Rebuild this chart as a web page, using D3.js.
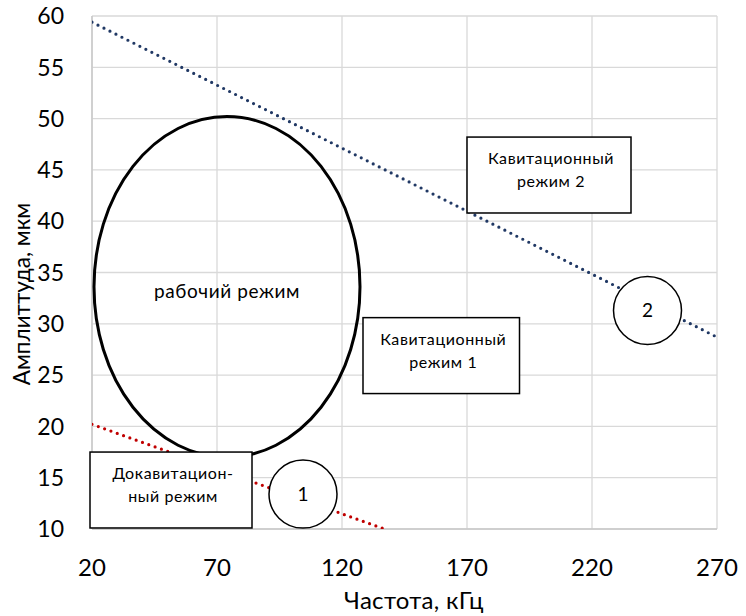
<!DOCTYPE html>
<html>
<head>
<meta charset="utf-8">
<script src="https://cdn.jsdelivr.net/npm/d3@7"></script>
<style>
  html, body { margin: 0; padding: 0; background: #fff; }
  svg { display: block; font-family: Lato, "Noto Sans", sans-serif; }
</style>
</head>
<body>
<svg id="chart" width="746" height="616"></svg>
<script>
// Boundary lines of the operating regions (frequency, kHz → amplitude, µm)
const upperBoundFreq = [20, 270];
const upperBoundAmp = [59.4, 28.7];
const lowerBoundFreq = [20, 137];
const lowerBoundAmp = [20.2, 10];

// Axis ticks
const xTicks = [20, 70, 120, 170, 220, 270];
const yTicks = [10, 15, 20, 25, 30, 35, 40, 45, 50, 55, 60];

// Working-mode region (ellipse in data units)
const workRegion = { cx: 74, cy: 33.6, rx: 53.2, ry: 16.6, labelY: 33.2, label: "рабочий режим" };

// Region captions (boxes in data units)
const regionBoxes = [
  { x0: 19.2, x1: 84, y0: 10.1, y1: 17.5, lines: ["Докавитацион-", "ный режим"] },
  { x0: 128.4, x1: 191, y0: 23.2, y1: 30.6, lines: ["Кавитационный", "режим 1"] },
  { x0: 170, x1: 235.6, y0: 40.8, y1: 48.2, lines: ["Кавитационный", "режим 2"] }
];

// Numbered markers on the boundary lines
const markers = [
  { x: 104.4, y: 13.4, label: "1" },
  { x: 242.2, y: 31.3, label: "2" }
];

const svg = d3.select("#chart");
const margin = { left: 92, right: 29, top: 16, bottom: 87 };
const W = 746, H = 616;

const x = d3.scaleLinear().domain([20, 270]).range([margin.left, W - margin.right]);
const y = d3.scaleLinear().domain([10, 60]).range([H - margin.bottom, margin.top]);

// Grid
const grid = svg.append("g");
grid.selectAll("line.h").data(yTicks).join("line")
  .attr("x1", x(20)).attr("x2", x(270))
  .attr("y1", d => y(d)).attr("y2", d => y(d))
  .attr("stroke", "#d9d9d9").attr("stroke-width", 1.3);
grid.selectAll("line.v").data(xTicks).join("line")
  .attr("x1", d => x(d)).attr("x2", d => x(d))
  .attr("y1", y(10)).attr("y2", y(60))
  .attr("stroke", "#d9d9d9").attr("stroke-width", 1.3);

// Axis lines
svg.append("line").attr("x1", x(20)).attr("x2", x(20)).attr("y1", y(10)).attr("y2", y(60))
  .attr("stroke", "#c8c8c8").attr("stroke-width", 1.5);
svg.append("line").attr("x1", x(20)).attr("x2", x(270)).attr("y1", y(10)).attr("y2", y(10))
  .attr("stroke", "#c8c8c8").attr("stroke-width", 1.5);

// Tick labels
svg.append("g").selectAll("text").data(yTicks).join("text")
  .attr("x", margin.left - 28).attr("y", d => y(d))
  .attr("dy", "0.36em").attr("text-anchor", "end")
  .attr("font-size", 23).attr("fill", "#000").text(d => d);
svg.append("g").selectAll("text").data(xTicks).join("text")
  .attr("x", d => x(d)).attr("y", H - margin.bottom + 47)
  .attr("text-anchor", "middle")
  .attr("font-size", 24).attr("fill", "#000").text(d => d);

// Axis titles
svg.append("text").attr("x", 414).attr("y", 609)
  .attr("text-anchor", "middle").attr("font-size", 24).attr("letter-spacing", 0.3)
  .text("Частота, кГц");
svg.append("text")
  .attr("transform", "translate(30,294) rotate(-90)")
  .attr("text-anchor", "middle").attr("font-size", 22.5)
  .text("Амплиттуда, мкм");

// Clip for boundary lines
svg.append("clipPath").attr("id", "plot").append("rect")
  .attr("x", x(20)).attr("y", y(60) - 4).attr("width", x(270) - x(20) + 4).attr("height", y(10) - y(60) + 4);

const line = d3.line().x(d => x(d[0])).y(d => y(d[1]));
const bounds = [
  { pts: d3.zip(upperBoundFreq, upperBoundAmp), color: "#203864" },
  { pts: d3.zip(lowerBoundFreq, lowerBoundAmp), color: "#c00000" }
];
svg.append("g").attr("clip-path", "url(#plot)").selectAll("path").data(bounds).join("path")
  .attr("d", d => line(d.pts))
  .attr("fill", "none").attr("stroke", d => d.color)
  .attr("stroke-width", 3.2).attr("stroke-linecap", "round")
  .attr("stroke-dasharray", "0 6.7");

// Working-mode ellipse
svg.append("ellipse")
  .attr("cx", x(workRegion.cx)).attr("cy", y(workRegion.cy))
  .attr("rx", x(workRegion.cx + workRegion.rx) - x(workRegion.cx))
  .attr("ry", y(workRegion.cy) - y(workRegion.cy + workRegion.ry))
  .attr("fill", "none").attr("stroke", "#000").attr("stroke-width", 3);
svg.append("text").attr("x", x(workRegion.cx)).attr("y", y(workRegion.labelY))
  .attr("dy", "0.35em").attr("text-anchor", "middle").attr("font-size", 19)
  .attr("letter-spacing", 0.6)
  .text(workRegion.label);

// Region caption boxes
const boxes = svg.append("g").selectAll("g").data(regionBoxes).join("g");
boxes.append("rect")
  .attr("x", d => x(d.x0)).attr("y", d => y(d.y1))
  .attr("width", d => x(d.x1) - x(d.x0)).attr("height", d => y(d.y0) - y(d.y1))
  .attr("fill", "#fff").attr("stroke", "#000").attr("stroke-width", 1.5);
boxes.each(function (d) {
  const cx = (x(d.x0) + x(d.x1)) / 2 + 2;
  const top = y(d.y1);
  const t = d3.select(this).append("text").attr("text-anchor", "middle")
    .attr("font-size", 16).attr("letter-spacing", 0.6);
  d.lines.forEach((s, i) => t.append("tspan").attr("x", cx).attr("y", top + 27 + i * 23).text(s));
});

// Numbered markers
const mk = svg.append("g").selectAll("g").data(markers).join("g")
  .attr("transform", d => `translate(${x(d.x)},${y(d.y)})`);
mk.append("circle").attr("r", 34).attr("fill", "#fff").attr("stroke", "#000").attr("stroke-width", 1.5);
mk.append("text").attr("text-anchor", "middle").attr("dy", "0.36em").attr("font-size", 19).text(d => d.label);
</script>
</body>
</html>
